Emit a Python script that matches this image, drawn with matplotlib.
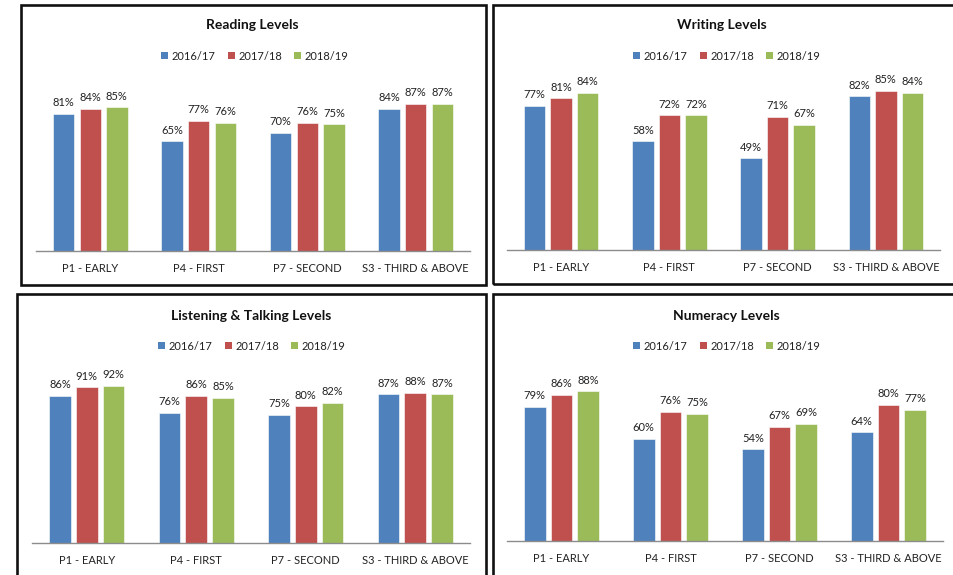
import matplotlib
matplotlib.use("Agg")
import matplotlib.pyplot as plt
from matplotlib.patches import Rectangle, Patch

plt.rcParams['font.family'] = ['Lato', 'DejaVu Sans']

W, H = 954, 575
categories = ["P1 - EARLY", "P4 - FIRST", "P7 - SECOND", "S3 - THIRD & ABOVE"]
years = ["2016/17", "2017/18", "2018/19"]
colors = ["#4F81BD", "#C0504D", "#9BBB59"]

reading_1617 = [81, 65, 70, 84]
reading_1718 = [84, 77, 76, 87]
reading_1819 = [85, 76, 75, 87]

writing_1617 = [77, 58, 49, 82]
writing_1718 = [81, 72, 71, 85]
writing_1819 = [84, 72, 67, 84]

listening_1617 = [86, 76, 75, 87]
listening_1718 = [91, 86, 80, 88]
listening_1819 = [92, 85, 82, 87]

numeracy_1617 = [79, 60, 54, 64]
numeracy_1718 = [86, 76, 67, 80]
numeracy_1819 = [88, 75, 69, 77]

panels = [
    dict(title="Reading Levels", series=[reading_1617, reading_1718, reading_1819],
         ax_x=(36, 470), base=251, ppp=1.69, title_xy=(252, 25), leg_xy=(255, 56),
         border=(21, 5, 486, 285)),
    dict(title="Writing Levels", series=[writing_1617, writing_1718, writing_1819],
         ax_x=(507, 940), base=250, ppp=1.873, title_xy=(722, 25), leg_xy=(727, 56),
         border=(493, 5, 970, 284)),
    dict(title="Listening & Talking Levels", series=[listening_1617, listening_1718, listening_1819],
         ax_x=(32, 470), base=543, ppp=1.71, title_xy=(251, 316), leg_xy=(252, 346),
         border=(17, 294, 486, 590)),
    dict(title="Numeracy Levels", series=[numeracy_1617, numeracy_1718, numeracy_1819],
         ax_x=(507, 943), base=541, ppp=1.70, title_xy=(726, 316), leg_xy=(727, 346),
         border=(493, 294, 970, 590)),
]

fig = plt.figure(figsize=(W / 100, H / 100), dpi=100)
fig.patch.set_facecolor("white")

def fx(x):
    return x / W

def fy(y):
    return 1 - y / H

for p in panels:
    bl, bt, br, bb = p["border"]
    fig.patches.append(Rectangle((fx(bl), fy(bb)), fx(br) - fx(bl), fy(bt) - fy(bb),
                                 transform=fig.transFigure, fill=False,
                                 edgecolor="#111111", linewidth=1.9, zorder=5))
    x0, x1 = p["ax_x"]
    base = p["base"]
    top = base - p["ppp"] * 100
    ax = fig.add_axes([fx(x0), fy(base), fx(x1) - fx(x0), fy(top) - fy(base)])
    ax.set_xlim(-0.5, 3.5)
    ax.set_ylim(0, 100)
    ax.patch.set_alpha(0)
    for s in ["top", "right", "left"]:
        ax.spines[s].set_visible(False)
    ax.spines["bottom"].set_color("#8C8C8C")
    ax.spines["bottom"].set_linewidth(1.0)
    ax.set_yticks([])
    ax.set_xticks(range(len(categories)))
    ax.set_xticklabels(categories, fontsize=8, color="#222222")
    ax.tick_params(axis="x", length=0, pad=9)
    offsets = [-0.245, 0, 0.245]
    for i, vals in enumerate(p["series"]):
        xs = [k + offsets[i] for k in range(len(categories))]
        bars = ax.bar(xs, vals, width=0.198, color=colors[i], edgecolor="white",
                      linewidth=0.4, zorder=2)
        for b, v in zip(bars, vals):
            ax.annotate(f"{v}%", (b.get_x() + b.get_width() / 2, v),
                        xytext=(0, 5.5), textcoords="offset points",
                        ha="center", va="baseline", fontsize=8, color="#222222")
    tx, ty = p["title_xy"]
    fig.text(fx(tx), fy(ty), p["title"], ha="center", va="center",
             fontsize=10, fontweight="bold", color="#111111")
    lx, ly = p["leg_xy"]
    handles = [Patch(facecolor=c, edgecolor="none") for c in colors]
    fig.legend(handles, years, loc="center", bbox_to_anchor=(fx(lx), fy(ly)),
               ncol=3, frameon=False, fontsize=8, handlelength=0.6, handleheight=0.6,
               handletextpad=0.35, columnspacing=1.1, borderpad=0, labelcolor="#222222")

fig.savefig("out.png", dpi=100)
